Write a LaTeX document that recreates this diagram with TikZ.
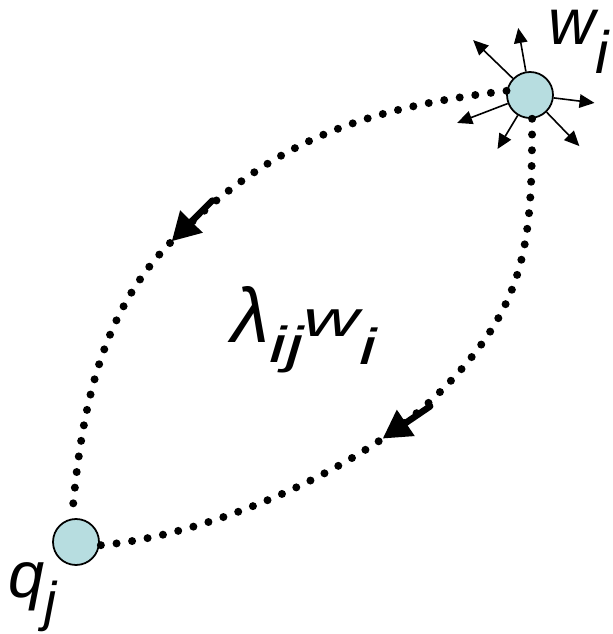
\documentclass[tikz,border=0pt]{standalone}
\usepackage{fontspec}
\setmainfont{Liberation Sans}
\usetikzlibrary{arrows.meta,decorations.markings,calc}
\definecolor{nodefill}{RGB}{183,221,224}
\newcommand{\lowsub}[3]{\raisebox{-#1}{\fontsize{#2}{#2}\selectfont #3}}

\begin{document}
\begin{tikzpicture}[x=0.02cm, y=0.02cm,
    vert/.style={circle, draw, line width=1pt, fill=nodefill, minimum size=0.92cm, inner sep=0pt},
    dotline/.style={line width=0.16cm, line cap=round, dash pattern=on 0pt off 0.315cm},
    flow/.style={postaction={decorate}, decoration={markings, mark=at position #1 with
        {\draw[solid, line width=0.13cm, line cap=round, -{Triangle[length=0.56cm, width=0.6cm]}] (-1.15cm,0) -- (0,0);}}},
    ray/.style={line width=0.032cm, -{Triangle[length=0.3cm, width=0.27cm]}},
    lbl/.style={font=\fontsize{37}{40}\selectfont\itshape, inner sep=0pt, text height=0.55em}]
    \useasboundingbox (0,0) rectangle (612,634);

    \node (w) [vert] at (530,539) {};
    \node (q) [vert] at (76,92) {};
    \coordinate (u) at (172,393);
    \coordinate (l) at (440,242);

    \node (wl) [lbl, anchor=base west] at (548,589) {w\lowsub{16pt}{34}{i}};
    \node (ql) [lbl, anchor=base west] at (8,36) {q\lowsub{13pt}{31}{j}};
    \node (lam) [lbl, anchor=base west, font=\fontsize{40}{44}\selectfont\itshape] at (231,297)
        {\raisebox{-3pt}{\fontsize{44}{44}\selectfont λ}\scalebox{1.1}[0.72]{\lowsub{20pt}{40}{ij}w\lowsub{22pt}{40}{i}}};

    % the two flows between w_i and q_j
    \draw[dotline, flow=0.555] (w.170) to[out=187, in=45] (u) to[out=225, in=85, looseness=0.9] (q.100);
    \draw[dotline, flow=0.55] (w.-85) to[out=-90, in=45, looseness=1.1] (l) to[out=225, in=5, looseness=0.75] (q.-8);

    \foreach \a/\l in {136/79, 100/68, -7/65, -46/71, 239/63, 201/78}
        \draw[ray] (w.\a) -- ($(w)+(\a:\l)$);
\end{tikzpicture}
\end{document}
